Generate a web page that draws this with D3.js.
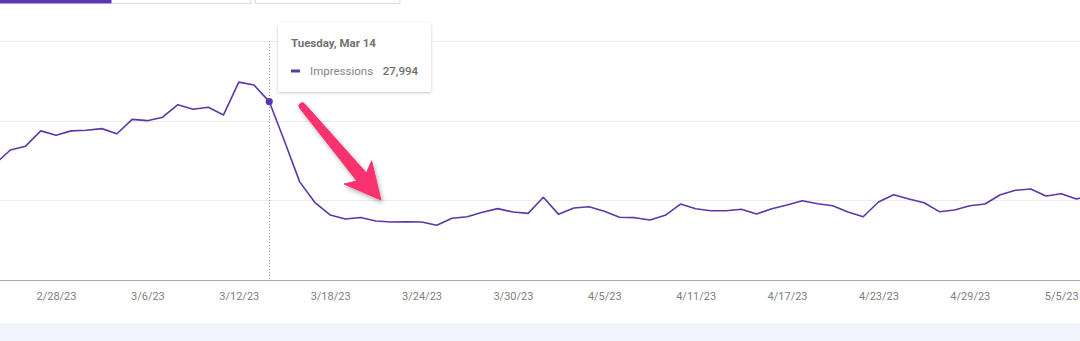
<!DOCTYPE html>
<html>
<head>
<meta charset="utf-8">
<script src="https://cdn.jsdelivr.net/npm/d3@7"></script>
<style>
  html, body { margin: 0; padding: 0; background: #fff; }
  svg { display: block; font-family: Roboto, "Noto Sans", sans-serif; }
</style>
</head>
<body>
<svg id="chart" width="1080" height="341"></svg>
<script>
// Daily impressions, Feb 24 – May 7 2023
const startDate = "2023-02-24";
const impressions = [
  18200, 20400, 21000, 23400, 22700, 23400, 23500, 23750, 22950, 25200,
  25000, 25550, 27500, 26800, 27100, 25900, 31050, 30600, 27994, 21800,
  15400, 12150, 10200, 9570, 9800, 9260, 9100, 9150, 9100, 8580,
  9680, 9930, 10620, 11200, 10670, 10460, 12980, 10300, 11300, 11500,
  10780, 9840, 9780, 9410, 10150, 11920, 11190, 10860, 10870, 11090,
  10350, 11190, 11770, 12440, 11970, 11660, 10670, 9930, 12240, 13380,
  12710, 12130, 10720, 10980, 11660, 11920, 13380, 14070, 14280, 13180,
  13540, 12710, 13340
];
const seriesName = "Impressions";
const tickLabels = ["2023-02-28", "2023-03-06", "2023-03-12", "2023-03-18", "2023-03-24",
  "2023-03-30", "2023-04-05", "2023-04-11", "2023-04-17", "2023-04-23", "2023-04-29", "2023-05-05"];
const yTicks = [0, 12500, 25000, 37500];
const focusDate = "2023-03-14";
// Annotation arrow, given in data space (start and tip)
const arrowFrom = { date: "2023-03-16T04:00", value: 27300 };
const arrowTo = { date: "2023-03-21T08:00", value: 12550 };

const parseDay = d3.utcParse("%Y-%m-%d");
const parseTime = d3.utcParse("%Y-%m-%dT%H:%M");
const day0 = parseDay(startDate);
const data = impressions.map((v, i) => ({ date: d3.utcDay.offset(day0, i), value: v }));

const svg = d3.select("#chart");
const W = 1080;

const x = d3.scaleUtc()
  .domain([parseDay("2023-02-28"), parseDay("2023-05-05")])
  .range([56, 1061.2]);
const y = d3.scaleLinear().domain([0, 37500]).range([280, 41]);

// Metric card strip along the top edge
const cards = svg.append("g");
cards.append("rect").attr("x", 0).attr("y", 0).attr("width", 111.5).attr("height", 3.5).attr("fill", "#5e35b1");
cards.append("path").attr("d", "M111.5,3.5H251V0").attr("fill", "none").attr("stroke", "#dadce0").attr("stroke-width", 1);
cards.append("path").attr("d", "M255.5,0V3.5H400V0").attr("fill", "none").attr("stroke", "#dadce0").attr("stroke-width", 1);

// Horizontal gridlines
svg.append("g").selectAll("line")
  .data(yTicks.filter(t => t > 0))
  .join("line")
  .attr("x1", 0).attr("x2", W)
  .attr("y1", d => Math.round(y(d)) + 0.5).attr("y2", d => Math.round(y(d)) + 0.5)
  .attr("stroke", "#ececec");

// x axis
const xAxis = d3.axisBottom(x)
  .tickValues(tickLabels.map(parseDay))
  .tickFormat(d3.utcFormat("%-m/%-d/%y"))
  .tickSize(0)
  .tickPadding(12);
const gx = svg.append("g").attr("transform", `translate(0,${Math.round(y(0)) + 0.5})`).call(xAxis);
gx.select(".domain").remove();
gx.selectAll("text").attr("fill", "#808080").attr("font-size", 11).attr("font-family", "Roboto, sans-serif");
svg.append("line").attr("x1", 0).attr("x2", W)
  .attr("y1", Math.round(y(0)) + 0.5).attr("y2", Math.round(y(0)) + 0.5)
  .attr("stroke", "#a8a8a8").attr("stroke-width", 1.2);

// Hover rule at the focused day
const fd = parseDay(focusDate);
const fx = Math.round(x(fd)) + 0.5;
svg.append("line").attr("x1", fx).attr("x2", fx).attr("y1", y(37500)).attr("y2", y(0))
  .attr("stroke", "#9a9a9a").attr("stroke-width", 1).attr("stroke-dasharray", "1,2");

// Series line
const line = d3.line().x(d => x(d.date)).y(d => y(d.value));
svg.append("path").datum(data)
  .attr("d", line)
  .attr("fill", "none")
  .attr("stroke", "#5b38a8")
  .attr("stroke-width", 1.6)
  .attr("stroke-linejoin", "round");

const fpt = data.find(d => +d.date === +fd);
svg.append("circle").attr("cx", x(fpt.date)).attr("cy", y(fpt.value)).attr("r", 3.6).attr("fill", "#5b38a8");

// Shadows
const defs = svg.append("defs");
const sh = defs.append("filter").attr("id", "tipShadow").attr("x", "-20%").attr("y", "-30%").attr("width", "140%").attr("height", "160%");
sh.append("feDropShadow").attr("dx", 0).attr("dy", 1).attr("stdDeviation", 1.6).attr("flood-color", "#000").attr("flood-opacity", 0.22);
const ash = defs.append("filter").attr("id", "arrowShadow").attr("x", "-30%").attr("y", "-30%").attr("width", "160%").attr("height", "160%");
ash.append("feDropShadow").attr("dx", 1.5).attr("dy", 2.5).attr("stdDeviation", 2.2).attr("flood-color", "#000").attr("flood-opacity", 0.3);

// Annotation arrow
const p0 = [x(parseTime(arrowFrom.date)), y(arrowFrom.value)];
const p1 = [x(parseTime(arrowTo.date)), y(arrowTo.value)];
const dx = p1[0] - p0[0], dy = p1[1] - p0[1];
const L = Math.hypot(dx, dy);
const ux = dx / L, uy = dy / L, px = -uy, py = ux;
const headLen = 35, headHalf = 18, w0 = 3.2, w1 = 6.2;
const pt = (along, across) => [p0[0] + ux * along + px * across, p0[1] + uy * along + py * across];
const base = L - headLen;
const arrowPts = [
  pt(0, -w0), pt(base + 5, -w1), pt(base - 1, -headHalf), pt(L, 0),
  pt(base - 1, headHalf), pt(base + 5, w1), pt(0, w0)
];
svg.append("path")
  .attr("d", "M" + arrowPts.map(p => p.join(",")).join("L") + "A" + w0 + "," + w0 + " 0 0 1 " + arrowPts[0].join(",") + "Z")
  .attr("fill", "#f7336e")
  .attr("stroke", "#f7336e")
  .attr("stroke-width", 1)
  .attr("stroke-linejoin", "round")
  .attr("filter", "url(#arrowShadow)");

// Tooltip card
const tip = svg.append("g").attr("transform", "translate(278,23)");
tip.append("rect").attr("width", 153).attr("height", 69).attr("rx", 1.5)
  .attr("fill", "#fff").attr("filter", "url(#tipShadow)");
tip.append("text").attr("x", 13).attr("y", 23.5)
  .attr("font-size", 11.5).attr("font-weight", 700).attr("fill", "#717171")
  .text(d3.utcFormat("%A, %b %-d")(fd));
tip.append("rect").attr("x", 13).attr("y", 46.5).attr("width", 9).attr("height", 3).attr("fill", "#5b38a8");
tip.append("text").attr("x", 32).attr("y", 52)
  .attr("font-size", 11.5).attr("fill", "#858585").text(seriesName);
tip.append("text").attr("x", 140).attr("y", 52).attr("text-anchor", "end")
  .attr("font-size", 11.5).attr("font-weight", 500).attr("fill", "#6e6e6e").text(d3.format(",")(fpt.value));

// Footer band
svg.append("rect").attr("x", 0).attr("y", 323).attr("width", W).attr("height", 18).attr("fill", "#f2f5fc");
</script>
</body>
</html>
